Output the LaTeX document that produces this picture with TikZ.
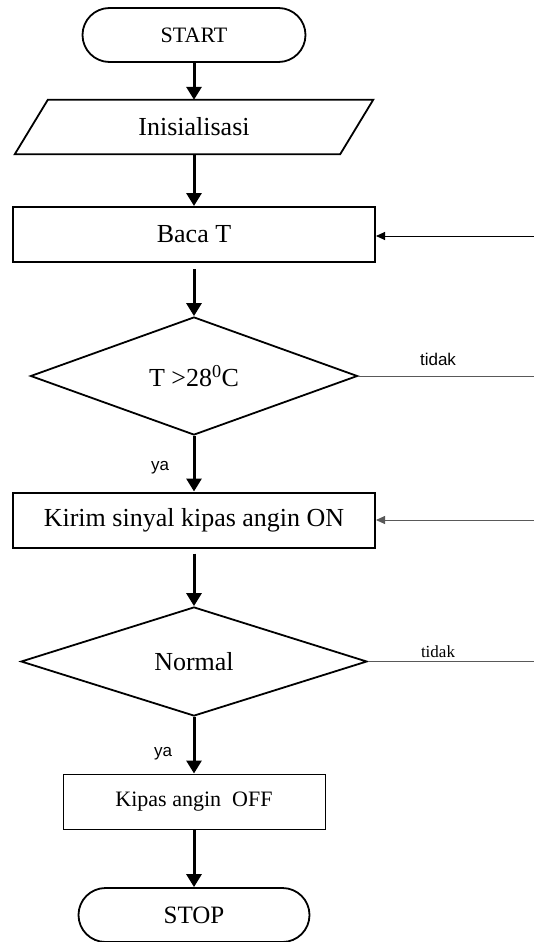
\documentclass[tikz,border=0pt]{standalone}
\usepackage{fontspec}
\setmainfont{Liberation Serif}
\newfontfamily\labsans{Liberation Sans}
\usetikzlibrary{arrows.meta,shapes.geometric}
\begin{document}
\begin{tikzpicture}[x=1pt,y=-1pt,
  term/.style={draw,line width=1.8pt,rounded corners=27pt,minimum height=54pt,inner sep=0pt,font=\fontsize{22}{26}\selectfont},
  procbox/.style={draw,line width=2pt,minimum width=362pt,minimum height=55pt,inner sep=0pt,font=\fontsize{26}{30}\selectfont},
  dec/.style={draw,diamond,line width=1.8pt,inner sep=0pt,font=\fontsize{26}{30}\selectfont},
  flow/.style={line width=3pt,-{Triangle[length=13pt,width=15pt]}},
  back/.style={line width=0.9pt,-{Triangle[length=9pt,width=8pt]}},
  side/.style={line width=1pt,gray!70!black},
  lab/.style={font=\labsans\fontsize{17}{20}\selectfont,inner sep=0pt}
]
\useasboundingbox (0,0) rectangle (534,942);
\node[term,minimum width=223pt] (start) at (194,35) {START};
\node[minimum width=358pt,minimum height=54pt,inner sep=0pt,font=\fontsize{26}{30}\selectfont] (init) at (194,127) {Inisialisasi};
\draw[line width=1.8pt,line join=miter] ([xshift=33pt]init.north west) -- (init.north east) -- ([xshift=-33pt]init.south east) -- (init.south west) -- cycle;
\node[procbox] (baca) at (194,234.5) {Baca T};
\node[dec,minimum width=327pt,minimum height=118pt] (d1) at (194,376) {T >28\textsuperscript{0}C};
\node[procbox] (kirim) at (194,520) {Kirim sinyal kipas angin ON};
\node[dec,minimum width=346pt,minimum height=109pt] (d2) at (194,661.5) {Normal};
\node[draw,line width=1pt,minimum width=262pt,minimum height=55pt,inner sep=0pt,font=\fontsize{22}{26}\selectfont] (off) at (194,801.5) {Kipas angin\ \ OFF};
\node[term,minimum width=231pt,font=\fontsize{25}{30}\selectfont] (stop) at (194,915) {STOP};

\draw[flow] (start.south) -- (init.north);
\draw[flow] (init.south) -- (baca.north);
\draw[flow,shorten <=6pt] (baca.south) -- (d1.north);
\draw[flow] (d1.south) -- (kirim.north);
\draw[flow,shorten <=5pt] (kirim.south) -- (d2.north);
\draw[flow] (d2.south) -- (off.north);
\draw[flow] (off.south) -- (stop.north);

\coordinate (e1) at (534,376);
\coordinate (e2) at (534,661.5);
\coordinate (r1) at (534,236);
\coordinate (r2) at (534,520);
\draw[side] (d1.east) -- (e1);
\draw[side] (d2.east) -- (e2);
\draw[back] (r1) -- (baca.east |- r1);
\draw[back,gray!70!black] (r2) -- (kirim.east |- r2);

\node[lab] (t1) at (438,359) {tidak};
\node[inner sep=0pt,font=\fontsize{17}{20}\selectfont] (t2) at (438,652) {tidak};
\node[lab] (y1) at (160,468) {ya};
\node[lab] (y2) at (163,754) {ya};
\end{tikzpicture}
\end{document}
